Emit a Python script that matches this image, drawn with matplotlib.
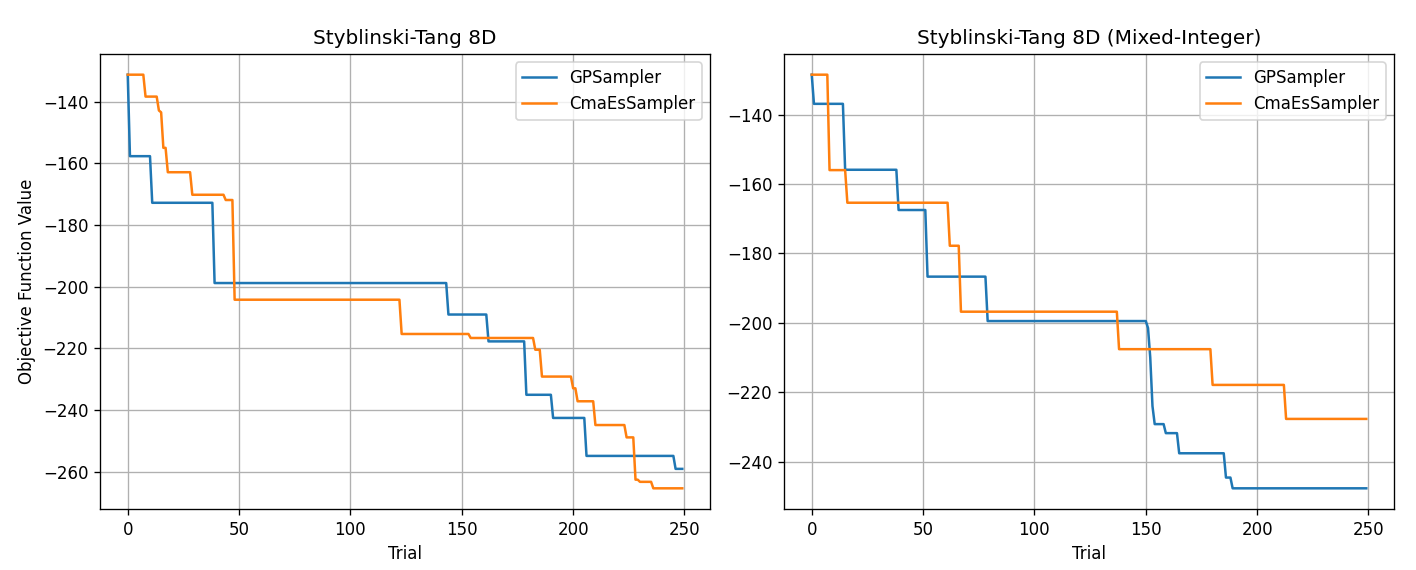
import numpy as np
import matplotlib
matplotlib.use("Agg")
import matplotlib.pyplot as plt

n_trials = 250
titles = ["Styblinski-Tang 8D", "Styblinski-Tang 8D (Mixed-Integer)"]
series_names = ["GPSampler", "CmaEsSampler"]

# best-so-far values: trial index where a new value starts, and that value
gp_left_trials = [0, 1, 11, 39, 144, 162, 179, 191, 206, 246]
gp_left_values = [-131.3, -157.7, -172.8, -198.8, -209.0, -217.7, -235.0, -242.5, -254.8, -259.0]

cma_left_trials = [0, 8, 14, 15, 16, 18, 29, 44, 48, 123, 154, 183, 186, 200, 202, 210, 224, 228, 230, 236]
cma_left_values = [-131.3, -138.4, -142.9, -143.5, -155.0, -162.9, -170.2, -171.9, -204.2, -215.3,
                   -216.6, -220.4, -229.1, -232.9, -237.1, -244.8, -248.8, -262.5, -263.2, -265.3]

gp_right_trials = [0, 1, 15, 39, 52, 79, 151, 152, 153, 154, 159, 165, 186, 189]
gp_right_values = [-128.5, -136.9, -155.9, -167.5, -186.7, -199.5, -201.5, -210.0, -224.0, -229.2,
                   -231.8, -237.6, -244.6, -247.7]

cma_right_trials = [0, 8, 16, 62, 67, 138, 180, 213]
cma_right_values = [-128.5, -156.0, -165.4, -177.8, -196.8, -207.6, -217.9, -227.7]


def expand(starts, values, n):
    counts = np.diff(list(starts) + [n])
    return np.repeat(values, counts)


DPI = 120
fig = plt.figure(figsize=(1416 / DPI, 570 / DPI), dpi=DPI)
ax1 = fig.add_axes([100 / 1416, 61 / 570, 610 / 1416, 455 / 570])
ax2 = fig.add_axes([784 / 1416, 61 / 570, 610 / 1416, 455 / 570])

trials = np.arange(n_trials)
panels = [
    (ax1, (gp_left_trials, gp_left_values), (cma_left_trials, cma_left_values)),
    (ax2, (gp_right_trials, gp_right_values), (cma_right_trials, cma_right_values)),
]
for i, (ax, gp, cma) in enumerate(panels):
    ax.plot(trials, expand(gp[0], gp[1], n_trials), color="#1f77b4", lw=1.5, label=series_names[0])
    ax.plot(trials, expand(cma[0], cma[1], n_trials), color="#ff7f0e", lw=1.5, label=series_names[1])
    ax.set_title(titles[i], fontsize=12)
    ax.set_xlabel("Trial")
    ax.grid(True)
    ax.legend(loc="upper right")
ax1.set_ylabel("Objective Function Value")

fig.savefig("out.png", dpi=DPI)
